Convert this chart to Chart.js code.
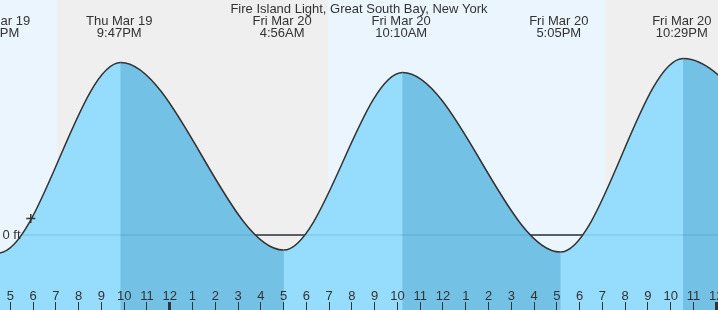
<!DOCTYPE html>
<html>
<head>
<meta charset="utf-8">
<script src="https://cdn.jsdelivr.net/npm/chart.js@4/dist/chart.umd.min.js"></script>
<style>
  body { margin: 0; background: #fff; }
  canvas { display: block; }
</style>
</head>
<body>
<canvas id="grafica" width="718" height="310"></canvas>
<script>
// hours counted from Fri Mar 20 00:00
const tideHours = [-14.53, -7.52, -2.15, 5.0, 10.23, 17.15, 22.55, 29.57];
const tideFeet = [3.2, -0.36, 3.45, -0.3, 3.25, -0.34, 3.53, -0.32];
const tideDates = ["Thu Mar 19", "Thu Mar 19", "Thu Mar 19", "Fri Mar 20", "Fri Mar 20", "Fri Mar 20", "Fri Mar 20", "Sat Mar 21"];
const tideTimes = ["9:36AM", "4:25PM", "9:47PM", "4:56AM", "10:10AM", "5:05PM", "10:29PM", "5:30AM"];

const nightStart = [-4.95, 19.11];
const nightEnd = [6.95, 30.9];

const tickHours = [-7, -6, -5, -4, -3, -2, -1, 0, 1, 2, 3, 4, 5, 6, 7, 8, 9, 10, 11, 12,
  13, 14, 15, 16, 17, 18, 19, 20, 21, 22, 23, 24];
const tickLabels = ["5", "6", "7", "8", "9", "10", "11", "12", "1", "2", "3", "4", "5", "6", "7", "8",
  "9", "10", "11", "12", "1", "2", "3", "4", "5", "6", "7", "8", "9", "10", "11", "12"];

const nowHour = [-6.1];
const nowFeet = [0.33];

const titulo = "Fire Island Light, Great South Bay, New York";
const fuente = '13px "Liberation Sans", Arial, sans-serif';

const fondo = {
  id: "fondo",
  beforeDraw(chart) {
    const ctx = chart.ctx;
    const x = chart.scales.x;
    const a = chart.chartArea;
    ctx.save();
    ctx.fillStyle = "#ebf5fe";
    ctx.fillRect(a.left, a.top, a.right - a.left, a.bottom - a.top);
    ctx.fillStyle = "#efefef";
    for (let i = 0; i < nightStart.length; i++) {
      const x1 = Math.round(x.getPixelForValue(nightStart[i]));
      const x2 = Math.round(x.getPixelForValue(nightEnd[i]));
      ctx.fillRect(x1, a.top, x2 - x1, a.bottom - a.top);
    }
    ctx.restore();
  },
};

const textos = {
  id: "textos",
  afterDatasetsDraw(chart) {
    const ctx = chart.ctx;
    const x = chart.scales.x;
    const y = chart.scales.y;
    ctx.save();
    ctx.font = fuente;
    ctx.fillStyle = "#333";
    ctx.textBaseline = "alphabetic";
    ctx.textAlign = "center";
    ctx.fillText(titulo, 359, 12.5);
    for (let i = 0; i < tideHours.length; i++) {
      const px = x.getPixelForValue(tideHours[i]) - 1.5;
      ctx.fillText(tideDates[i], px, 24.5);
      ctx.fillText(tideTimes[i], px, 37);
    }
    // hour ticks at the bottom
    for (let i = 0; i < tickHours.length; i++) {
      const px = x.getPixelForValue(tickHours[i]);
      ctx.fillText(tickLabels[i], px, 300);
      const w = tickHours[i] % 24 === 0 ? 3 : 1;
      ctx.fillRect(Math.round(px - w / 2), 302, w, 8);
    }
    ctx.textAlign = "left";
    ctx.fillText("0 ft", 2.5, y.getPixelForValue(0) + 3.5);
    ctx.restore();
  },
};

const claro = "#96dcfc";
const oscuro = "#73c1e5";
const puntos = tideHours.map((h, i) => ({ x: h, y: tideFeet[i] }));

new Chart(document.getElementById("grafica"), {
  type: "line",
  data: {
    datasets: [
      {
        data: [{ x: -6.5, y: 0 }, { x: 25, y: 0 }],
        borderColor: "#333",
        borderWidth: 1.4,
        pointRadius: 0,
        fill: false,
        order: 4,
      },
      {
        // solid base under the two-tone fill, hides seams between segments
        data: puntos,
        borderWidth: 0,
        borderColor: "rgba(0,0,0,0)",
        backgroundColor: oscuro,
        pointRadius: 0,
        cubicInterpolationMode: "monotone",
        fill: "start",
        order: 3,
      },
      {
        data: puntos,
        borderColor: "#333",
        borderWidth: 1.5,
        backgroundColor: claro,
        pointRadius: 0,
        cubicInterpolationMode: "monotone",
        fill: "start",
        segment: {
          backgroundColor: (c) => (c.p1.parsed.y > c.p0.parsed.y ? claro : oscuro),
        },
        order: 2,
      },
      {
        data: [{ x: -6.5, y: 0 }, { x: 25, y: 0 }],
        borderColor: "rgba(0, 70, 130, 0.12)",
        borderWidth: 1.4,
        pointRadius: 0,
        fill: false,
        order: 1,
      },
      {
        data: nowHour.map((h, i) => ({ x: h, y: nowFeet[i] })),
        showLine: false,
        pointStyle: "cross",
        pointRadius: 4.5,
        borderColor: "#333",
        borderWidth: 1.5,
        order: 0,
      },
    ],
  },
  options: {
    responsive: false,
    animation: false,
    devicePixelRatio: 1,
    layout: { padding: 0, autoPadding: false },
    plugins: { legend: { display: false }, tooltip: { enabled: false }, title: { display: false } },
    scales: {
      x: { type: "linear", min: -7.451, max: 24.075, display: false },
      y: { type: "linear", min: -1.5, max: 4.7, display: false },
    },
  },
  plugins: [fondo, textos],
});
</script>
</body>
</html>
